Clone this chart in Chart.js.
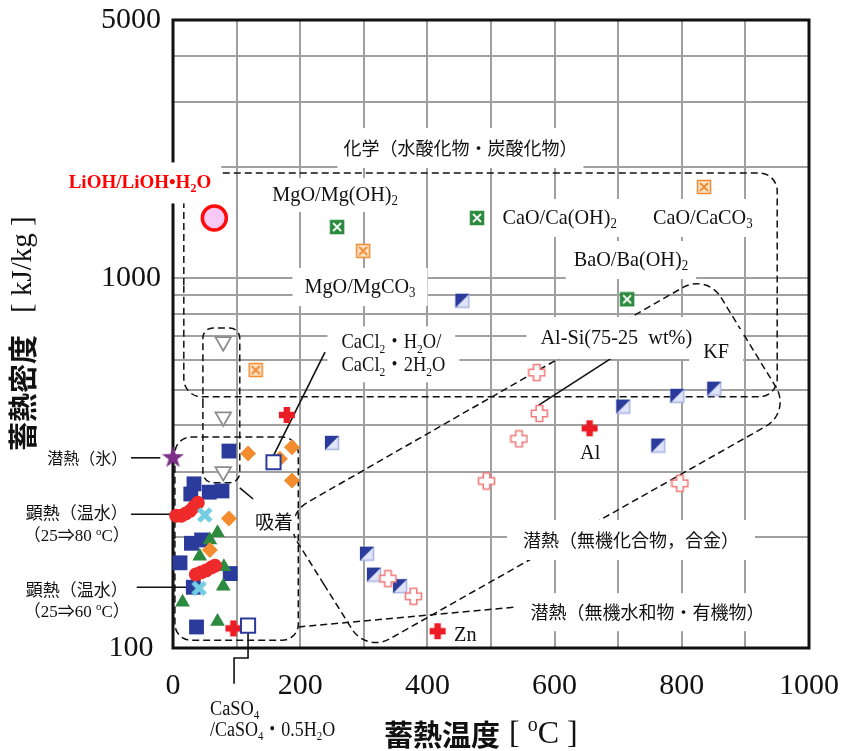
<!DOCTYPE html>
<html>
<head>
<meta charset="utf-8">
<title>蓄熱温度と蓄熱密度</title>
<script src="https://cdn.jsdelivr.net/npm/chart.js@4.4.1/dist/chart.umd.min.js"></script>
<style>
  html, body { margin: 0; padding: 0; background: #fff; }
  canvas { display: block; }
</style>
</head>
<body>
<canvas id="chart" width="843" height="751"></canvas>
<script>
// x = 蓄熱温度 [°C], y = 蓄熱密度 [kJ/kg]
const lithiumHydroxide = [{ x: 65, y: 1457 }];
const hydroxides = [{ x: 258, y: 1377 }, { x: 478, y: 1457 }, { x: 714, y: 878 }];
const carbonates = [{ x: 299, y: 1187 }, { x: 835, y: 1767 }, { x: 130, y: 565 }];
const grayTriangles = [{ x: 79, y: 674 }, { x: 79, y: 422 }, { x: 79, y: 300 }];
const inorganicSalts = [
  { x: 455, y: 870 }, { x: 250, y: 359 }, { x: 305, y: 180 }, { x: 316, y: 158 },
  { x: 357, y: 147 }, { x: 708, y: 450 }, { x: 763, y: 353 }, { x: 793, y: 481 }, { x: 851, y: 503 }
];
const alloys = [
  { x: 338, y: 154 }, { x: 378, y: 138 }, { x: 493, y: 283 }, { x: 544, y: 368 },
  { x: 572, y: 556 }, { x: 576, y: 431 }, { x: 797, y: 279 }
];
const metals = [{ x: 179, y: 427 }, { x: 655, y: 393 }, { x: 416, y: 111 }, { x: 95, y: 113 }];
const diamonds = [
  { x: 118, y: 336 }, { x: 168, y: 325 }, { x: 187, y: 349 }, { x: 187, y: 284 },
  { x: 88, y: 224 }, { x: 58, y: 184 }
];
const openSquares = [{ x: 158, y: 318 }, { x: 118, y: 115 }];
const blueSquares = [
  { x: 88, y: 341 }, { x: 33, y: 278 }, { x: 28, y: 261 }, { x: 57, y: 264 }, { x: 77, y: 266 },
  { x: 29, y: 192 }, { x: 45, y: 196 }, { x: 11, y: 170 }, { x: 90, y: 159 }, { x: 32, y: 146 }, { x: 37, y: 114 }
];
const cyanCrosses = [{ x: 50, y: 229 }, { x: 41, y: 145 }];
const greenTriangles = [
  { x: 70, y: 205 }, { x: 58, y: 196 }, { x: 42, y: 177 }, { x: 80, y: 166 },
  { x: 79, y: 147 }, { x: 15, y: 133 }, { x: 70, y: 118 }
];
const water80 = [
  { x: 5, y: 228 }, { x: 13, y: 228 }, { x: 20, y: 231 }, { x: 27, y: 235 }, { x: 33, y: 241 }, { x: 39, y: 247 }
];
const water60 = [{ x: 36, y: 158 }, { x: 44, y: 160 }, { x: 52, y: 162 }, { x: 60, y: 165 }, { x: 66, y: 167 }];
const ice = [{ x: 0, y: 327 }];

// axes
const xTicks = [0, 100, 200, 300, 400, 500, 600, 700, 800, 900, 1000];
const xLabels = [0, 200, 400, 600, 800, 1000];
const yTicks = [100, 200, 300, 400, 500, 600, 700, 800, 900, 1000, 2000, 3000, 4000, 5000];
const yLabels = [100, 1000, 5000];

const SERIF = "'Liberation Serif', 'Noto Sans CJK JP', serif";
const CJK = "'Noto Sans CJK JP', sans-serif";

// dashed outlines, corners in data units, radius in px
const regions = [
  { rect: [17, 1928, 950, 478], radius: 18 },
  { rect: [47, 734, 105, 280], radius: 10 },
  { rect: [3, 372, 197, 105], radius: 16 },
  { pts: [[171, 226], [839, 1028], [972, 435], [304, 97.5]], radius: 28 }
];
const dashedLines = [[[197, 114], [538, 129]]];
const leaders = [
  [[239, 632], [157, 329]],
  [[695, 617], [575, 454]],
  [[105, 271], [126, 253]],
  [[-66, 327], [-20, 327]],
  [[-66, 230], [8, 230]],
  [[-57, 146], [27, 146]],
  [[118, 115], [118, 94], [96, 94], [96, 80]]
];
const notes = [
  { text: '化学（水酸化物・炭酸化物）', x: 452, y: 2253, font: CJK, size: 18, bg: [6, 11] },
  { text: 'LiOH/LiOH•H_2O', x: -52, y: 1812, font: SERIF, size: 19, weight: 'bold', color: '#ff0000', bg: [10, 11] },
  { text: 'MgO/Mg(OH)_2', x: 255, y: 1681, font: SERIF, size: 22, sx: 0.92, bg: [4, 6] },
  { text: 'CaO/Ca(OH)_2', x: 608, y: 1457, font: SERIF, size: 22, sx: 0.92, bg: [8, 8] },
  { text: 'CaO/CaCO_3', x: 833, y: 1457, font: SERIF, size: 22, sx: 0.92, bg: [8, 8] },
  { text: 'BaO/Ba(OH)_2', x: 720, y: 1121, font: SERIF, size: 22, sx: 0.92, bg: [8, 8] },
  { text: 'MgO/MgCO_3', x: 294, y: 948, font: SERIF, size: 22, sx: 0.92, bg: [12, 8] },
  { text: 'CaCl_2・H_2O/', x: 265, y: 669, font: SERIF, size: 21, sx: 0.88, align: 'left', bg: [14, 6] },
  { text: 'CaCl_2・2H_2O', x: 265, y: 580, font: SERIF, size: 21, sx: 0.88, align: 'left', bg: [14, 6] },
  { text: 'Al-Si(75-25  wt%)', x: 697, y: 690, font: SERIF, size: 22, sx: 0.92, bg: [14, 10] },
  { text: 'KF', x: 854, y: 632, font: SERIF, size: 22, sx: 0.92, bg: [14, 12] },
  { text: 'Al', x: 656, y: 337, font: SERIF, size: 22, sx: 0.92 },
  { text: 'Zn', x: 442, y: 108, font: SERIF, size: 22, sx: 0.92, align: 'left' },
  { text: '吸着', x: 159, y: 220, font: CJK, size: 19, bg: [2, 3] },
  { text: '潜熱（無機化合物，合金）', x: 720, y: 196, font: CJK, size: 18, bg: [16, 11] },
  { text: '潜熱（無機水和物・有機物）', x: 746, y: 125, font: CJK, size: 18, bg: [12, 10] },
  { text: '潜熱（氷）', x: -72, y: 327, font: CJK, size: 16, align: 'right' },
  { text: '顕熱（温水）', x: -71, y: 232, font: CJK, size: 17, align: 'right' },
  { text: '（25⇒80 ^oC）', x: -68, y: 200, font: SERIF, size: 17, align: 'right' },
  { text: '顕熱（温水）', x: -71, y: 144, font: CJK, size: 17, align: 'right' },
  { text: '（25⇒60 ^oC）', x: -68, y: 125, font: SERIF, size: 17, align: 'right' },
  { text: 'CaSO_4', x: 58, y: 68, font: SERIF, size: 20, sx: 0.92, align: 'left' },
  { text: '/CaSO_4・0.5H_2O', x: 58, y: 59.6, font: SERIF, size: 20, sx: 0.9, align: 'left' }
];

// ---- marker images ----
function marker(size, draw) {
  const c = document.createElement('canvas');
  c.width = size;
  c.height = size;
  draw(c.getContext('2d'), size);
  return c;
}

function plusPath(g, s, arm, m) {
  const lo = (s - arm) / 2, hi = (s + arm) / 2, e = s - m;
  const p = [[lo, m], [hi, m], [hi, lo], [e, lo], [e, hi], [hi, hi], [hi, e], [lo, e], [lo, hi], [m, hi], [m, lo], [lo, lo]];
  g.beginPath();
  p.forEach((q, i) => (i ? g.lineTo(q[0], q[1]) : g.moveTo(q[0], q[1])));
  g.closePath();
}

function xBox(fill, line, cross) {
  return marker(16, (g, s) => {
    g.fillStyle = fill;
    g.fillRect(1, 1, s - 2, s - 2);
    g.strokeStyle = line;
    g.lineWidth = 1.5;
    g.strokeRect(1.5, 1.5, s - 3, s - 3);
    g.strokeStyle = cross;
    g.lineWidth = 1.8;
    g.beginPath();
    g.moveTo(4, 4); g.lineTo(s - 4, s - 4);
    g.moveTo(s - 4, 4); g.lineTo(4, s - 4);
    g.stroke();
  });
}

const greenBox = xBox('#2b8a3e', '#2b8a3e', '#ffffff');
const orangeBox = xBox('#fde2c4', '#f08a32', '#f08a32');

const halfSquare = marker(16, (g, s) => {
  g.fillStyle = '#dfe4f7';
  g.fillRect(1, 1, s - 2, s - 2);
  g.strokeStyle = '#a9b4e4';
  g.lineWidth = 1.5;
  g.strokeRect(1.5, 1.5, s - 3, s - 3);
  g.fillStyle = '#2b3b9c';
  g.beginPath();
  g.moveTo(1, 1); g.lineTo(s - 1, 1); g.lineTo(1, s - 1);
  g.closePath();
  g.fill();
});

const redCross = marker(18, (g, s) => {
  plusPath(g, s, 6.5, 1);
  g.fillStyle = '#ec1c24';
  g.fill();
});

const pinkCross = marker(19, (g, s) => {
  plusPath(g, s, 6.5, 1.5);
  g.fillStyle = '#ffffff';
  g.fill();
  g.strokeStyle = '#f27a7a';
  g.lineWidth = 1.6;
  g.stroke();
});

const star = marker(25, (g, s) => {
  const c = s / 2;
  g.beginPath();
  for (let i = 0; i < 10; i++) {
    const r = i % 2 ? 4.6 : 11.5;
    const a = -Math.PI / 2 + i * Math.PI / 5;
    g.lineTo(c + r * Math.cos(a), c + r * Math.sin(a));
  }
  g.closePath();
  g.fillStyle = '#7b2d87';
  g.fill();
});

const cyanX = marker(18, (g, s) => {
  g.strokeStyle = '#74cde0';
  g.lineWidth = 5;
  g.beginPath();
  g.moveTo(3, 3); g.lineTo(s - 3, s - 3);
  g.moveTo(s - 3, 3); g.lineTo(3, s - 3);
  g.stroke();
});

function series(data, style, extra) {
  return Object.assign({ data, pointStyle: style, clip: false, pointRadius: 8, borderWidth: 0 }, extra);
}

// first dataset is drawn on top
const datasets = [
  series(ice, star),
  series(lithiumHydroxide, 'circle', { pointRadius: 12, backgroundColor: '#f9c9f6', borderColor: '#ff0a0a', borderWidth: 3.5 }),
  series(openSquares, 'rect', { pointRadius: 10, backgroundColor: '#ffffff', borderColor: '#2b3b9c', borderWidth: 2 }),
  series(cyanCrosses, cyanX),
  series(water80, 'circle', { pointRadius: 7, backgroundColor: '#ee2a2a', borderColor: '#ee2a2a' }),
  series(water60, 'circle', { pointRadius: 7, backgroundColor: '#ee2a2a', borderColor: '#ee2a2a' }),
  series(diamonds, 'rectRot', { pointRadius: 8, backgroundColor: '#f28c2c' }),
  series(greenTriangles, 'triangle', { pointRadius: 8.5, backgroundColor: '#2b8a3e' }),
  series(blueSquares, 'rect', { pointRadius: 10.5, backgroundColor: '#2b3b9c' }),
  series(grayTriangles, 'triangle', { pointRadius: 9, rotation: 180, backgroundColor: '#ffffff', borderColor: '#8c8c8c', borderWidth: 1.8 }),
  series(metals, redCross),
  series(alloys, pinkCross),
  series(inorganicSalts, halfSquare),
  series(hydroxides, greenBox),
  series(carbonates, orangeBox)
];

// ---- drawing helpers for the notes ----
function richParts(text) {
  const parts = [];
  let buf = '';
  for (let i = 0; i < text.length; i++) {
    const c = text[i];
    if (c === '_' || c === '^') {
      if (buf) parts.push({ t: buf, k: '' });
      buf = '';
      parts.push({ t: text[i + 1], k: c });
      i++;
    } else {
      buf += c;
    }
  }
  if (buf) parts.push({ t: buf, k: '' });
  return parts;
}

// pass 'bg' paints only the white box, pass 'text' only the letters
function drawText(ctx, n, cx, cy, pass) {
  const size = n.size;
  const sx = n.sx || 1;
  const fontFor = k => `${n.weight || 'normal'} ${k ? Math.round(size * 0.62) : size}px ${n.font}`;
  const parts = richParts(n.text);
  let w = 0;
  parts.forEach(p => {
    ctx.font = fontFor(p.k);
    p.w = ctx.measureText(p.t).width;
    w += p.w;
  });
  const align = n.align || 'center';
  let left = align === 'center' ? -w / 2 : align === 'right' ? -w : 0;
  ctx.save();
  ctx.translate(cx, cy);
  if (n.rotate) ctx.rotate(n.rotate);
  ctx.scale(sx, 1);
  if (pass !== 'text' && n.bg) {
    ctx.fillStyle = '#ffffff';
    ctx.fillRect(left - n.bg[0] / sx, -size / 2 - n.bg[1], w + 2 * n.bg[0] / sx, size + 2 * n.bg[1]);
  }
  if (pass !== 'bg') {
    ctx.fillStyle = n.color || '#111';
    ctx.textBaseline = 'middle';
    ctx.textAlign = 'left';
    parts.forEach(p => {
      ctx.font = fontFor(p.k);
      const dy = p.k === '_' ? size * 0.3 : p.k === '^' ? -size * 0.3 : 0;
      ctx.fillText(p.t, left, dy);
      left += p.w;
    });
  }
  ctx.restore();
}

function roundedPath(ctx, pts, r) {
  const n = pts.length;
  ctx.beginPath();
  ctx.moveTo((pts[0][0] + pts[n - 1][0]) / 2, (pts[0][1] + pts[n - 1][1]) / 2);
  for (let i = 0; i < n; i++) {
    const p = pts[i], q = pts[(i + 1) % n];
    ctx.arcTo(p[0], p[1], q[0], q[1], r);
  }
  ctx.closePath();
}

const notesPlugin = {
  id: 'notes',
  beforeDatasetsDraw(chart) {
    const { ctx, chartArea: a, scales } = chart;
    const px = v => scales.x.getPixelForValue(v);
    const py = v => scales.y.getPixelForValue(v);
    const pt = p => [px(p[0]), py(p[1])];
    ctx.save();

    // frame
    ctx.strokeStyle = '#111';
    ctx.lineWidth = 3;
    ctx.strokeRect(a.left, a.top, a.right - a.left, a.bottom - a.top);

    // dashed groups
    ctx.lineWidth = 1.5;
    ctx.setLineDash([7, 4]);
    regions.forEach(r => {
      let pts = r.pts;
      if (r.rect) {
        const [x0, y0, x1, y1] = r.rect;
        pts = [[x0, y0], [x1, y0], [x1, y1], [x0, y1]];
      }
      roundedPath(ctx, pts.map(pt), r.radius);
      ctx.stroke();
    });
    dashedLines.forEach(l => {
      ctx.beginPath();
      l.map(pt).forEach((q, i) => (i ? ctx.lineTo(q[0], q[1]) : ctx.moveTo(q[0], q[1])));
      ctx.stroke();
    });

    // leader lines
    ctx.setLineDash([]);
    ctx.lineWidth = 1.6;
    leaders.forEach(l => {
      ctx.beginPath();
      l.map(pt).forEach((q, i) => (i ? ctx.lineTo(q[0], q[1]) : ctx.moveTo(q[0], q[1])));
      ctx.stroke();
    });

    notes.forEach(n => drawText(ctx, n, px(n.x), py(n.y), 'bg'));
    notes.forEach(n => drawText(ctx, n, px(n.x), py(n.y), 'text'));

    // axis titles
    const midX = (a.left + a.right) / 2;
    drawText(ctx, { text: '蓄熱温度', font: CJK, size: 29, weight: 'bold', align: 'right' }, midX + 9, a.bottom + 87);
    drawText(ctx, { text: '[ ^oC ]', font: SERIF, size: 32, align: 'left' }, midX + 18, a.bottom + 87);
    drawText(ctx, { text: '蓄熱密度', font: CJK, size: 29, weight: 'bold', align: 'left', rotate: -Math.PI / 2 }, 23, 451);
    drawText(ctx, { text: '[ kJ/kg ]', font: SERIF, size: 29, align: 'left', rotate: -Math.PI / 2 }, 23, 313);
    ctx.restore();
  }
};

// drop the extra room Chart.js keeps for tick labels
function fixScale(s, size) {
  if (s.isHorizontal()) s.height = size; else s.width = size;
  s.paddingTop = 0;
  s.paddingBottom = 0;
  s.paddingLeft = 0;
  s.paddingRight = 0;
}

const tickFont = { family: SERIF, size: 30 };

const config = {
  type: 'scatter',
  data: { datasets },
  options: {
    responsive: false,
    animation: false,
    events: [],
    layout: { padding: { top: 20, right: 34, left: 0, bottom: 0 } },
    plugins: { legend: { display: false }, tooltip: { enabled: false } },
    scales: {
      x: {
        type: 'linear',
        min: 0,
        max: 1000,
        afterBuildTicks: s => { s.ticks = xTicks.map(v => ({ value: v })); },
        afterFit: s => fixScale(s, 103),
        ticks: {
          autoSkip: false,
          maxRotation: 0,
          padding: 20,
          color: '#111',
          font: tickFont,
          callback: v => (xLabels.includes(v) ? String(v) : '')
        },
        grid: { color: '#a0a0a0', lineWidth: 2, drawTicks: false },
        border: { display: false }
      },
      y: {
        type: 'logarithmic',
        min: 100,
        max: 5000,
        afterBuildTicks: s => { s.ticks = yTicks.map(v => ({ value: v })); },
        afterFit: s => fixScale(s, 173),
        ticks: {
          autoSkip: false,
          crossAlign: 'center',
          padding: 12,
          color: '#111',
          font: tickFont,
          callback: v => (yLabels.includes(v) ? String(v) : '')
        },
        grid: { color: '#a0a0a0', lineWidth: 2, drawTicks: false },
        border: { display: false }
      }
    }
  },
  plugins: [notesPlugin]
};

const myChart = new Chart(document.getElementById('chart'), config);
</script>
</body>
</html>
